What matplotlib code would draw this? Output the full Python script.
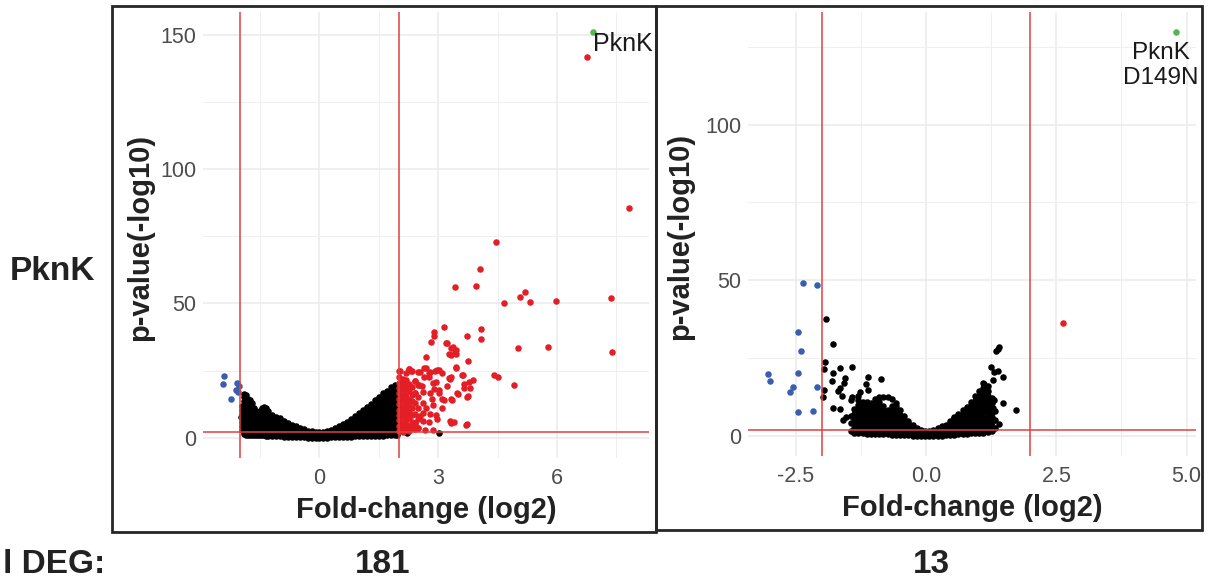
import matplotlib.pyplot as plt
import numpy as np
from matplotlib.patches import Rectangle

plt.rcParams['font.family'] = ['Liberation Sans', 'DejaVu Sans']

W, H = 1221, 579

# ---------------- left panel (PknK) ----------------
# black (non significant) points, typed per column: x -> list of -log10 p
left_black_cols = {
    -1.97: [7.7],
    -1.95: [3.0, 4.5, 6.0, 9.0, 10.5, 12.0],
    -1.9: [1.5, 3.0, 4.5, 6.0, 7.5, 9.0, 10.5, 12.0, 13.5, 15.0, 16.2],
    -1.85: [1.2, 2.7, 4.2, 5.7, 7.2, 8.7, 10.2, 11.7, 13.2, 14.7, 15.8],
    -1.8: [1.0, 2.5, 4.0, 5.5, 7.0, 8.5, 10.0, 11.5, 13.0, 14.5],
    -1.75: [1.0, 2.5, 4.0, 5.5, 7.0, 8.5, 10.0, 11.5, 13.0, 14.0],
    -1.7: [1.0, 2.5, 4.0, 5.5, 7.0, 8.5, 10.0, 11.5, 12.8],
    -1.65: [1.0, 2.5, 4.0, 5.5, 7.0, 8.5, 10.0, 11.2],
    -1.6: [1.0, 2.5, 4.0, 5.5, 7.0, 8.5, 9.8],
    -1.55: [1.0, 2.5, 4.0, 5.5, 7.0, 8.5, 9.4],
    -1.5: [1.0, 2.5, 4.0, 5.5, 7.0, 8.5, 10.0],
    -1.45: [0.9, 2.4, 3.9, 5.4, 6.9, 8.4, 9.9, 11.0],
    -1.4: [0.9, 2.4, 3.9, 5.4, 6.9, 8.4, 9.9, 11.4],
    -1.35: [0.8, 2.3, 3.8, 5.3, 6.8, 8.3, 9.8, 11.2],
    -1.3: [0.8, 2.3, 3.8, 5.3, 6.8, 8.3, 9.9],
    -1.2: [0.7, 2.2, 3.7, 5.2, 6.7, 8.4],
    -1.1: [0.6, 2.1, 3.6, 5.1, 6.6, 7.9],
    -1.0: [0.5, 2.0, 3.5, 5.0, 6.5, 7.2],
    -0.9: [0.4, 1.9, 3.4, 4.9, 6.2],
    -0.8: [0.3, 1.8, 3.3, 4.8, 5.6],
    -0.7: [0.2, 1.7, 3.2, 4.6],
    -0.6: [0.2, 1.6, 3.1, 4.2],
    -0.5: [0.1, 1.5, 2.9, 3.6],
    -0.4: [0.1, 1.4, 2.6, 3.2],
    -0.3: [0.0, 1.3, 2.5],
    -0.2: [0.0, 1.2, 2.4],
    -0.1: [0.0, 1.1, 2.2],
    0.0: [0.0, 1.1, 2.2],
    0.1: [0.0, 1.1, 2.3],
    0.2: [0.0, 1.2, 2.5],
    0.3: [0.1, 1.3, 2.6, 3.0],
    0.4: [0.1, 1.4, 2.7, 3.6],
    0.5: [0.2, 1.5, 2.9, 4.2],
    0.6: [0.2, 1.6, 3.1, 4.6, 5.0],
    0.7: [0.3, 1.7, 3.2, 4.7, 6.0],
    0.8: [0.4, 1.8, 3.3, 4.8, 6.3, 7.0],
    0.9: [0.5, 1.9, 3.4, 4.9, 6.4, 8.0],
    1.0: [0.5, 2.0, 3.5, 5.0, 6.5, 8.0, 9.1],
    1.1: [0.6, 2.1, 3.6, 5.1, 6.6, 8.1, 9.6, 10.2],
    1.2: [0.6, 2.1, 3.6, 5.1, 6.6, 8.1, 9.6, 11.1, 11.6],
    1.3: [0.7, 2.2, 3.7, 5.2, 6.7, 8.2, 9.7, 11.2, 12.6],
    1.4: [0.7, 2.2, 3.7, 5.2, 6.7, 8.2, 9.7, 11.2, 12.7, 14.0],
    1.5: [0.8, 2.3, 3.8, 5.3, 6.8, 8.3, 9.8, 11.3, 12.8, 14.3, 15.1],
    1.6: [0.8, 2.3, 3.8, 5.3, 6.8, 8.3, 9.8, 11.3, 12.8, 14.3, 15.8, 16.6],
    1.7: [0.9, 2.4, 3.9, 5.4, 6.9, 8.4, 9.9, 11.4, 12.9, 14.4, 15.9, 17.4],
    1.8: [0.9, 2.4, 3.9, 5.4, 6.9, 8.4, 9.9, 11.4, 12.9, 14.4, 15.9, 17.4, 19.0],
    1.9: [1.0, 2.5, 4.0, 5.5, 7.0, 8.5, 10.0, 11.5, 13.0, 14.5, 16.0, 17.5, 19.5],
    1.96: [1.0, 2.5, 4.0, 5.5, 7.0, 8.5, 10.0, 11.5, 13.0, 14.5, 16.0, 17.6],
    2.22: [1.7],
    3.02: [1.8],
}

# dense red cluster just right of the +2 cut-off
left_red_cols = {
    2.02: [2.5, 4.5, 6.5, 8.5, 10.5, 12.5, 14.5, 16.5, 18.5, 20.5, 22.5, 25.0],
    2.1: [2.0, 4.0, 6.0, 8.0, 10.0, 12.0, 14.0, 16.0, 18.0, 20.0, 22.0],
    2.18: [3.0, 5.0, 7.0, 9.0, 11.0, 13.0, 15.0, 17.0, 19.0, 21.5, 24.0],
    2.26: [2.5, 4.5, 7.5, 9.5, 12.0, 14.0, 17.5, 20.0, 25.6],
    2.34: [3.5, 6.0, 8.5, 11.0, 13.5, 16.0, 19.0, 24.9],
    2.42: [3.2, 5.5, 9.0, 13.0, 16.6, 21.2],
    2.5: [3.6, 7.0, 11.0, 15.0, 19.6, 24.5],
}

left_red_pts = [
    (4.46, 73.0), (4.06, 62.8), (3.43, 56.1), (3.95, 56.5), (5.20, 54.4), (5.07, 52.5),
    (5.31, 50.4), (4.65, 50.2), (5.97, 51.0), (7.37, 52.2), (7.39, 32.0), (5.76, 33.7),
    (5.01, 33.3), (4.90, 19.6), (4.41, 23.3), (4.52, 22.8), (4.09, 40.5), (4.09, 36.6),
    (3.73, 37.9), (3.15, 41.3), (2.89, 39.2), (2.88, 37.8), (2.81, 35.6), (3.21, 35.4),
    (3.37, 33.7), (3.44, 32.7), (3.26, 31.1), (3.33, 30.9), (3.46, 31.0), (2.68, 30.0),
    (3.75, 28.6), (3.46, 26.3), (3.63, 23.3), (3.87, 21.6), (3.81, 18.7), (3.64, 20.0),
    (3.73, 15.2), (3.50, 16.4), (3.32, 22.8), (3.29, 22.0), (3.21, 19.4), (3.15, 14.1),
    (3.02, 16.8), (3.35, 14.0), (3.10, 10.9), (3.73, 5.0), (3.29, 6.3), (3.39, 5.9),
    (3.33, 5.4), (2.87, 2.7), (2.92, 24.9), (3.02, 25.2), (2.80, 24.6), (2.68, 25.8),
    (2.54, 24.5), (2.26, 25.6), (2.32, 24.9), (2.03, 25.0), (2.63, 22.8), (2.76, 22.6),
    (2.87, 20.3), (2.95, 20.7), (2.51, 19.6), (2.59, 19.1), (2.40, 21.2), (2.61, 17.0),
    (2.80, 16.6), (2.41, 16.6), (2.87, 12.3), (2.61, 13.1), (2.61, 9.2), (2.78, 8.8),
    (2.94, 8.6), (2.97, 7.0), (2.61, 6.4), (2.77, 5.9), (2.41, 5.5), (2.49, 3.6),
    (2.67, 3.0), (2.28, 3.2), (3.19, 35.4), (3.31, 33.3), (3.42, 32.1), (3.10, 24.1),
    (3.44, 25.9), (3.61, 23.4), (3.78, 20.9), (3.65, 18.5), (3.76, 15.4), (3.48, 16.6),
    (3.31, 14.4), (3.10, 14.4), (3.02, 17.8), (3.27, 22.2), (2.64, 25.9), (2.77, 24.1),
    (2.98, 25.3), (2.89, 18.0), (3.71, 4.8), (2.70, 11.0), (2.85, 14.5), (2.55, 8.0),
    (6.76, 141.7), (7.81, 85.4),
]

left_blue_pts = [(-2.42, 23.0), (-2.43, 20.0), (-2.08, 20.3), (-2.04, 19.1),
                 (-2.12, 17.8), (-2.05, 17.2), (-2.23, 14.4)]
left_green_pts = [(6.91, 151.0)]

# ---------------- right panel (PknK D149N) ----------------
right_black_cols = {
    -1.44: [1.5, 4.0, 6.5, 11.5],
    -1.38: [1.0, 2.5, 4.0, 5.5, 7.0, 8.5],
    -1.3: [0.8, 2.1, 3.4, 4.7, 6.0, 7.3, 8.6, 9.9, 11.5],
    -1.22: [0.8, 2.1, 3.4, 4.7, 6.0, 7.3, 8.6, 9.9, 11.0],
    -1.14: [0.7, 2.0, 3.3, 4.6, 5.9, 7.2, 8.5, 9.8, 10.8],
    -1.06: [0.7, 2.0, 3.3, 4.6, 5.9, 7.2, 8.5, 9.8, 10.6],
    -0.98: [0.6, 1.9, 3.2, 4.5, 5.8, 7.1, 8.4, 9.7, 11.0, 11.8],
    -0.9: [0.6, 1.9, 3.2, 4.5, 5.8, 7.1, 8.4, 9.7, 11.0, 12.4],
    -0.82: [0.5, 1.8, 3.1, 4.4, 5.7, 7.0, 8.3, 9.6, 12.6],
    -0.74: [0.5, 1.8, 3.1, 4.4, 5.7, 7.0, 8.3, 12.4],
    -0.66: [0.4, 1.7, 3.0, 4.3, 5.6, 6.9, 8.2, 9.5, 11.8],
    -0.58: [0.4, 1.7, 3.0, 4.3, 5.6, 6.9, 8.2, 9.5, 10.6],
    -0.5: [0.3, 1.6, 2.9, 4.2, 5.5, 6.8, 8.2],
    -0.42: [0.2, 1.5, 2.8, 4.1, 5.4, 6.4],
    -0.34: [0.2, 1.5, 2.8, 4.1, 4.8],
    -0.26: [0.1, 1.4, 2.7, 3.6],
    -0.18: [0.1, 1.3, 2.5],
    -0.1: [0.0, 1.2, 2.0],
    -0.02: [0.0, 1.1, 1.5],
    0.06: [0.0, 1.1, 1.6],
    0.14: [0.0, 1.2, 2.0],
    0.22: [0.1, 1.3, 2.4],
    0.3: [0.1, 1.4, 2.7, 3.0],
    0.38: [0.2, 1.5, 2.8, 3.6],
    0.46: [0.3, 1.6, 2.9, 4.2, 4.8],
    0.54: [0.4, 1.7, 3.0, 4.3, 5.6, 6.0],
    0.62: [0.5, 1.8, 3.1, 4.4, 5.7, 7.0],
    0.7: [0.6, 1.9, 3.2, 4.5, 5.8, 7.1, 8.2],
    0.78: [0.7, 2.0, 3.3, 4.6, 5.9, 7.2, 8.5, 9.3],
    0.86: [0.8, 2.1, 3.4, 4.7, 6.0, 7.3, 8.6, 9.9, 11.0],
    0.94: [0.9, 2.2, 3.5, 4.8, 6.1, 7.4, 8.7, 10.0, 11.3, 12.8],
    1.02: [1.0, 2.3, 3.6, 4.9, 6.2, 7.5, 8.8, 10.1, 11.4, 12.7, 14.5],
    1.1: [1.0, 2.3, 3.6, 4.9, 6.2, 7.5, 8.8, 10.1, 11.4, 12.7, 14.0, 15.5, 17.0],
    1.18: [1.2, 2.5, 3.8, 5.1, 6.4, 7.7, 9.0, 10.3, 11.6, 12.9, 14.5, 16.0],
    1.26: [1.5, 3.0, 4.5, 6.0, 7.5, 9.0, 10.5, 12.0],
    1.32: [2.5, 5.0, 8.0],
}

right_black_pts = [
    (-1.92, 37.4), (-1.79, 29.4), (-1.94, 23.8), (-1.96, 21.5), (-1.65, 21.8), (-1.42, 22.1),
    (-1.78, 20.1), (-1.81, 17.6), (-1.55, 18.5), (-1.58, 17.1), (-1.65, 15.5), (-1.70, 14.5),
    (-1.96, 14.7), (-1.98, 12.5), (-1.62, 12.8), (-1.42, 12.5), (-1.11, 18.8), (-0.87, 18.4),
    (-1.16, 16.7), (-1.11, 14.7), (-1.28, 14.2), (-1.30, 12.8), (-1.79, 9.0), (-1.65, 8.5),
    (-1.53, 6.2), (-1.60, 5.1), (-1.37, 2.1), (1.40, 28.6), (1.37, 27.8), (1.35, 27.4),
    (1.25, 22.1), (1.31, 20.6), (1.37, 20.8), (1.47, 19.0), (1.29, 17.9), (1.12, 16.8),
    (1.72, 8.3), (1.40, 3.7), (1.47, 10.6), (1.31, 11.5), (1.28, 8.8),
]

right_red_pts = [(2.63, 36.2)]
right_blue_pts = [(-2.37, 49.1), (-2.10, 48.6), (-2.47, 33.5), (-2.40, 27.2), (-3.03, 19.8),
                  (-3.00, 17.6), (-2.46, 20.1), (-2.10, 15.8), (-2.56, 15.6), (-2.61, 14.2),
                  (-2.47, 7.5), (-2.17, 8.0)]
right_green_pts = [(4.79, 129.7)]

deg_counts = ['181', '13']


def cols_to_xy(cols):
    xs, ys = [], []
    for x, col in cols.items():
        xs += [x] * len(col)
        ys += col
    return np.array(xs), np.array(ys)


def pts_to_xy(pts):
    a = np.array(pts, dtype=float)
    return a[:, 0], a[:, 1]


RED = '#E41E26'
BLUE = '#3A5DAE'
GREEN = '#57B54F'
LINE = '#E2403E'
S = 22


def volcano(ax, black_sets, red_sets, blue, green, xmaj, xmin_, xlabels, ymaj, ymin_):
    all_x, all_y = [], []
    for xs, ys in black_sets:
        ax.scatter(xs, ys, s=S, c='black', lw=0, zorder=2)
        all_x.append(xs); all_y.append(ys)
    for xs, ys in red_sets:
        ax.scatter(xs, ys, s=S, c=RED, lw=0, zorder=2.2)
        all_x.append(xs); all_y.append(ys)
    for pts, col in ((blue, BLUE), (green, GREEN)):
        xs, ys = pts_to_xy(pts)
        ax.scatter(xs, ys, s=S, c=col, lw=0, zorder=2.3)
        all_x.append(xs); all_y.append(ys)
    ax_all = np.concatenate(all_x)
    ay_all = np.concatenate(all_y)
    # ggplot style 5% expansion
    dx = 0.05 * (ax_all.max() - ax_all.min())
    dy = 0.05 * (ay_all.max() - 0)
    ax.set_xlim(ax_all.min() - dx, ax_all.max() + dx)
    ax.set_ylim(0 - dy, ay_all.max() + dy)

    ax.axvline(-2, color=LINE, lw=1.1, zorder=3)
    ax.axvline(2, color=LINE, lw=1.1, zorder=3)
    ax.axhline(2, color=LINE, lw=1.1, zorder=3)

    ax.set_xticks(xmaj)
    ax.set_xticklabels(xlabels)
    ax.set_xticks(xmin_, minor=True)
    ax.set_yticks(ymaj)
    ax.set_yticklabels([str(v) for v in ymaj])
    ax.set_yticks(ymin_, minor=True)
    ax.grid(which='major', color='#EBEBEB', lw=1.1)
    ax.grid(which='minor', color='#EFEFEF', lw=0.7)
    ax.set_axisbelow(True)
    for sp in ax.spines.values():
        sp.set_visible(False)
    ax.tick_params(which='both', length=0, labelsize=15.5, labelcolor='#4D4D4D')
    ax.tick_params(axis='x', pad=7)
    ax.tick_params(axis='y', pad=5)


fig = plt.figure(figsize=(W / 100, H / 100), dpi=100)

ax1 = fig.add_axes([203 / W, 1 - 458 / H, 446 / W, 446 / H])
volcano(ax1,
        [cols_to_xy(left_black_cols)],
        [cols_to_xy(left_red_cols), pts_to_xy(left_red_pts)],
        left_blue_pts, left_green_pts,
        [0, 3, 6], [-1.5, 1.5, 4.5, 7.5], ['0', '3', '6'],
        [0, 50, 100, 150], [25, 75, 125])
ax1.text(6.92, 146.8, 'PknK', fontsize=18, color='#1A1A1A', ha='left', va='center',
         clip_on=False, zorder=4)

ax2 = fig.add_axes([748 / W, 1 - 456 / H, 448 / W, 444 / H])
volcano(ax2,
        [cols_to_xy(right_black_cols), pts_to_xy(right_black_pts)],
        [pts_to_xy(right_red_pts)],
        right_blue_pts, right_green_pts,
        [-2.5, 0, 2.5, 5], [-1.25, 1.25, 3.75], ['-2.5', '0.0', '2.5', '5.0'],
        [0, 50, 100], [25, 75, 125])
ax2.text(4.51, 126.5, 'PknK\nD149N', fontsize=17.5, color='#1A1A1A', ha='center', va='top',
         multialignment='center', linespacing=1.15, clip_on=False, zorder=4)

# axis titles
lab = dict(fontsize=21, fontweight='bold', color='#222222')
fig.text(426 / W, 1 - 518.5 / H, 'Fold-change (log2)', ha='center', va='baseline', **lab)
fig.text(972 / W, 1 - 515.5 / H, 'Fold-change (log2)', ha='center', va='baseline', **lab)
fig.text(140 / W, 1 - 237 / H, 'p-value(-log10)', rotation=90, ha='center', va='center', **lab)
fig.text(680 / W, 1 - 236 / H, 'p-value(-log10)', rotation=90, ha='center', va='center', **lab)

# panel frames
for x0, y0, x1, y1 in [(112, 6, 656, 532), (656, 6, 1202, 530)]:
    fig.add_artist(Rectangle((x0 / W, 1 - y1 / H), (x1 - x0) / W, (y1 - y0) / H,
                             transform=fig.transFigure, fill=False, lw=2.0,
                             ec='#262626', zorder=5))

big = dict(fontsize=24, fontweight='bold', color='#222222', va='baseline')
fig.text(10 / W, 1 - 280 / H, 'PknK', ha='left', **big)
fig.text(3 / W, 1 - 573 / H, 'l DEG:', ha='left', **big)
fig.text(383 / W, 1 - 573 / H, deg_counts[0], ha='center', **big)
fig.text(931 / W, 1 - 573 / H, deg_counts[1], ha='center', **big)

fig.savefig('out.png', dpi=100)
